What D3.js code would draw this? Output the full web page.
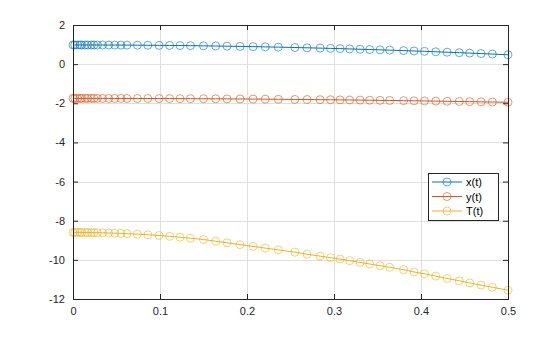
<!DOCTYPE html>
<html><head><meta charset="utf-8">
<script src="https://cdn.jsdelivr.net/npm/d3@7"></script>
<style>body{margin:0;background:#fff}svg{display:block}text{font-family:"Liberation Sans",Arial,sans-serif}</style>
</head><body><svg id="c" width="560" height="337"></svg>
<script>
const tVals = [0,0.002,0.005,0.008,0.010,0.014,0.017,0.021,0.024,0.028,0.034,0.041,0.048,0.055,0.062,0.074,0.086,0.099,0.111,0.123,0.135,0.150,0.164,0.177,0.192,0.207,0.221,0.236,0.255,0.269,0.284,0.296,0.307,0.318,0.330,0.341,0.353,0.364,0.380,0.392,0.404,0.417,0.430,0.444,0.456,0.469,0.482,0.5];
const xSeries = [0.98,0.98,0.98,0.98,0.98,0.98,0.979,0.979,0.979,0.978,0.978,0.977,0.975,0.974,0.972,0.969,0.965,0.960,0.955,0.950,0.944,0.935,0.926,0.917,0.906,0.894,0.882,0.869,0.850,0.835,0.819,0.805,0.792,0.778,0.762,0.747,0.731,0.715,0.691,0.673,0.654,0.632,0.610,0.586,0.564,0.540,0.515,0.48];
const ySeries = [-1.75,-1.75,-1.75,-1.75,-1.75,-1.75,-1.75,-1.75,-1.75,-1.751,-1.751,-1.751,-1.752,-1.752,-1.753,-1.754,-1.756,-1.758,-1.76,-1.762,-1.765,-1.768,-1.772,-1.775,-1.78,-1.784,-1.789,-1.795,-1.802,-1.808,-1.815,-1.82,-1.825,-1.831,-1.837,-1.843,-1.85,-1.856,-1.866,-1.873,-1.881,-1.889,-1.898,-1.908,-1.916,-1.926,-1.936,-1.95];
const TSeries = [-8.600,-8.600,-8.600,-8.601,-8.602,-8.603,-8.605,-8.607,-8.609,-8.613,-8.618,-8.627,-8.637,-8.648,-8.662,-8.688,-8.718,-8.757,-8.797,-8.843,-8.892,-8.960,-9.05,-9.13,-9.22,-9.31,-9.40,-9.49,-9.61,-9.71,-9.81,-9.89,-9.96,-10.04,-10.13,-10.21,-10.30,-10.38,-10.50,-10.62,-10.71,-10.83,-10.95,-11.07,-11.18,-11.29,-11.40,-11.55];
const seriesNames = ["x(t)","y(t)","T(t)"];
const seriesColors = ["#0072BD","#D95319","#EDB120"];
const xTicks = [0,0.1,0.2,0.3,0.4,0.5];
const yTicks = [2,0,-2,-4,-6,-8,-10,-12];

const svg = d3.select("#c");
const L=73,R=508,T=25,B=299;
const x = d3.scaleLinear().domain([0,0.5]).range([L,R]);
const y = d3.scaleLinear().domain([-12,2]).range([B,T]);

// grid
const g = svg.append("g");
g.selectAll(".gx").data(xTicks).enter().append("line")
 .attr("x1",d=>x(d)+0.5).attr("x2",d=>x(d)+0.5).attr("y1",T).attr("y2",B)
 .attr("stroke","#dfdfdf").attr("stroke-width",1);
g.selectAll(".gy").data(yTicks).enter().append("line")
 .attr("y1",d=>Math.round(y(d))+0.5).attr("y2",d=>Math.round(y(d))+0.5).attr("x1",L).attr("x2",R)
 .attr("stroke","#dfdfdf").attr("stroke-width",1);

// series
const all = [xSeries,ySeries,TSeries];
const line = d3.line().x((d,i)=>x(tVals[i])).y(d=>y(d));
all.forEach((s,k)=>{
  svg.append("path").datum(s).attr("d",line).attr("fill","none")
    .attr("stroke",seriesColors[k]).attr("stroke-width",1);
  svg.append("g").selectAll("circle").data(s).enter().append("circle")
    .attr("cx",(d,i)=>x(tVals[i])).attr("cy",d=>y(d)).attr("r",4)
    .attr("fill","none").attr("stroke",seriesColors[k]).attr("stroke-opacity",0.6).attr("stroke-width",1);
});

// axes
const ax = svg.append("g").attr("transform",`translate(0,${B})`)
  .call(d3.axisBottom(x).tickValues(xTicks).tickSize(-5).tickFormat(d3.format("")).tickPadding(8));
const ay = svg.append("g").attr("transform",`translate(${L},0)`)
  .call(d3.axisLeft(y).tickValues(yTicks).tickSize(-5).tickFormat(d=>d).tickPadding(8));
svg.append("g").attr("transform",`translate(0,${T})`)
  .call(d3.axisTop(x).tickValues(xTicks).tickSize(-5).tickFormat(""));
svg.append("g").attr("transform",`translate(${R},0)`)
  .call(d3.axisRight(y).tickValues(yTicks).tickSize(-5).tickFormat(""));
svg.selectAll(".domain").attr("stroke","#262626");
svg.selectAll(".tick line").attr("stroke","#262626");
svg.selectAll(".tick text").attr("fill","#262626").attr("font-size",11).attr("font-family","Liberation Sans, Arial, sans-serif");

// legend
const lg = svg.append("g").attr("transform","translate(428,173)");
lg.append("rect").attr("x",0.5).attr("y",0.5).attr("width",70).attr("height",47)
  .attr("fill","#fff").attr("stroke","#262626").attr("stroke-width",1);
seriesNames.forEach((n,k)=>{
  const yy = 9 + k*14.5;
  lg.append("line").attr("x1",4).attr("x2",34).attr("y1",yy).attr("y2",yy).attr("stroke",seriesColors[k]).attr("stroke-width",1);
  lg.append("circle").attr("cx",19).attr("cy",yy).attr("r",4).attr("fill","none").attr("stroke",seriesColors[k]).attr("stroke-opacity",0.6);
  lg.append("text").attr("x",38).attr("y",yy+4).attr("font-size",11).attr("fill","#000").text(n);
});
</script></body></html>
